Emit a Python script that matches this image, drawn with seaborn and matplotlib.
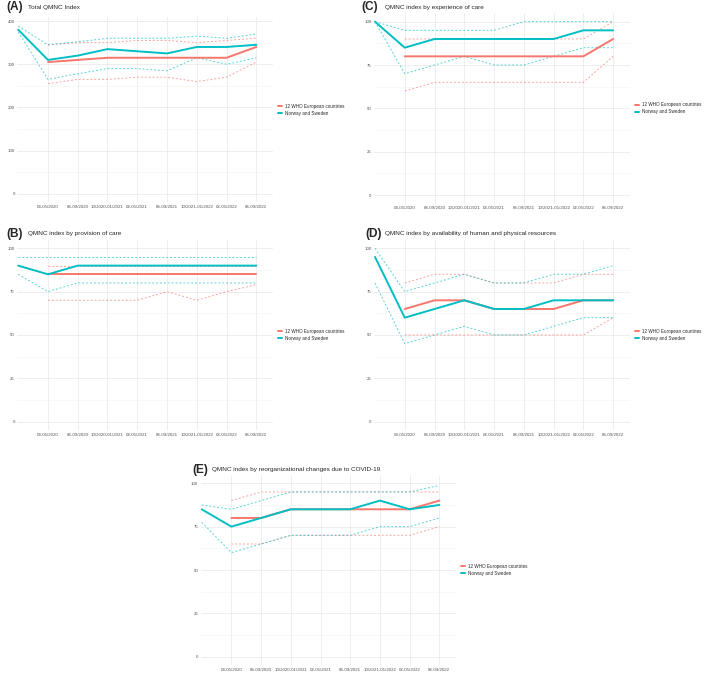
import numpy as np
import pandas as pd
import matplotlib.pyplot as plt
from matplotlib.lines import Line2D
from matplotlib.ticker import MultipleLocator
import seaborn as sns

sns.set_style("white")
plt.rcParams["font.family"] = ["Liberation Sans", "DejaVu Sans"]

# ---------------------------------------------------------
# data
# ---------------------------------------------------------
periods = ["baseline", "03-05/2020", "06-09/2020", "10/2020-01/2021", "02-05/2021",
           "06-09/2021", "10/2021-01/2022", "02-05/2022", "06-09/2022"]
groups = ["12 WHO European countries", "Norway and Sweden"]
palette = {"12 WHO European countries": "#F8766D", "Norway and Sweden": "#00BFC4"}
nan = np.nan

# (A) total QMNC index
a_who = [nan, 305, 310, 315, 315, 315, 315, 315, 340]
a_who_lo = [nan, 255, 265, 265, 270, 270, 260, 270, 305]
a_who_hi = [nan, 345, 350, 350, 355, 355, 350, 355, 360]
a_nor = [380, 310, 320, 335, 330, 325, 340, 340, 345]
a_nor_lo = [375, 265, 278, 290, 290, 285, 315, 300, 315]
a_nor_hi = [388, 345, 352, 360, 360, 360, 365, 360, 370]

# (B) provision of care
b_who = [nan, 85, 85, 85, 85, 85, 85, 85, 85]
b_who_lo = [nan, 70, 70, 70, 70, 75, 70, 75, 79]
b_who_hi = [nan, 90, 90, 90, 90, 90, 90, 90, 90]
b_nor = [90, 85, 90, 90, 90, 90, 90, 90, 90]
b_nor_lo = [85, 75, 80, 80, 80, 80, 80, 80, 80]
b_nor_hi = [95, 95, 95, 95, 95, 95, 95, 95, 95]

# (C) experience of care
c_who = [nan, 80, 80, 80, 80, 80, 80, 80, 90]
c_who_lo = [nan, 60, 65, 65, 65, 65, 65, 65, 80]
c_who_hi = [nan, 90, 90, 90, 90, 90, 90, 90, 100]
c_nor = [100, 85, 90, 90, 90, 90, 90, 95, 95]
c_nor_lo = [100, 70, 75, 80, 75, 75, 80, 85, 85]
c_nor_hi = [100, 95, 95, 95, 95, 100, 100, 100, 100]

# (D) availability of human and physical resources
d_who = [nan, 65, 70, 70, 65, 65, 65, 70, 70]
d_who_lo = [nan, 50, 50, 50, 50, 50, 50, 50, 60]
d_who_hi = [nan, 80, 85, 85, 80, 80, 80, 85, 85]
d_nor = [95, 60, 65, 70, 65, 65, 70, 70, 70]
d_nor_lo = [80, 45, 50, 55, 50, 50, 55, 60, 60]
d_nor_hi = [100, 75, 80, 85, 80, 80, 85, 85, 90]

# (E) reorganizational changes due to COVID-19
e_who = [nan, 80, 80, 85, 85, 85, 85, 85, 90]
e_who_lo = [nan, 65, 65, 70, 70, 70, 70, 70, 75]
e_who_hi = [nan, 90, 95, 95, 95, 95, 95, 95, 95]
e_nor = [85, 75, 80, 85, 85, 85, 90, 85, 87.5]
e_nor_lo = [77.5, 60, 65, 70, 70, 70, 75, 75, 80]
e_nor_hi = [87.5, 85, 90, 95, 95, 95, 95, 95, 98.75]


def to_long(who, who_lo, who_hi, nor, nor_lo, nor_hi):
    rows = []
    for grp, vals in [(groups[0], (who, who_lo, who_hi)), (groups[1], (nor, nor_lo, nor_hi))]:
        for kind, series in zip(["mean", "lower", "upper"], vals):
            for i, v in enumerate(series):
                rows.append({"x": i, "period": periods[i], "group": grp, "kind": kind, "value": v})
    return pd.DataFrame(rows).dropna()


# ---------------------------------------------------------
# figure layout in pixels (709 x 680)
# ---------------------------------------------------------
W, H = 709, 680
fig = plt.figure(figsize=(W / 100, H / 100), dpi=100)


def px_axes(left, top, right, bottom):
    return fig.add_axes([left / W, 1 - bottom / H, (right - left) / W, (bottom - top) / H])


def panel(ax, df, ylim, major, letter, title, lx, tx, ty):
    for kind in ["lower", "upper"]:
        sns.lineplot(data=df[df["kind"] == kind], x="x", y="value", hue="group",
                     palette=palette, estimator=None, linewidth=0.7, alpha=0.65,
                     linestyle=(0, (2, 2)), legend=False, ax=ax)
    sns.lineplot(data=df[df["kind"] == "mean"], x="x", y="value", hue="group",
                 palette=palette, estimator=None, linewidth=1.4, legend=False, ax=ax)

    ax.set_xlim(-0.04, 8.56)
    ax.set_ylim(*ylim)
    ax.set_xticks(range(1, 9))
    ax.set_xticklabels(periods[1:])
    ax.yaxis.set_major_locator(MultipleLocator(major))
    ax.yaxis.set_minor_locator(MultipleLocator(major / 2))
    ax.grid(axis="x", which="major", color="#EBEBEB", linewidth=0.6)
    ax.grid(axis="y", which="major", color="#EBEBEB", linewidth=0.6)
    ax.grid(axis="y", which="minor", color="#F3F3F3", linewidth=0.4)
    ax.set_axisbelow(True)
    ax.tick_params(axis="both", which="both", length=0, labelsize=3.2,
                   labelcolor="#555555", pad=1.6)
    ax.set_xlabel("")
    ax.set_ylabel("")
    sns.despine(ax=ax, left=True, bottom=True)

    handles = [Line2D([], [], color=palette[g], linewidth=1.4) for g in groups]
    ax.legend(handles, groups, loc="center left", bbox_to_anchor=(1.012, 0.5),
              frameon=False, fontsize=3.3, handlelength=1.0, handletextpad=0.6,
              labelspacing=0.45, borderaxespad=0)

    fig.text(lx / W, 1 - ty / H, letter, fontsize=8.6, fontweight="bold", va="center")
    fig.text(tx / W, 1 - ty / H, title, fontsize=4.6, va="center")


# (A)
ax_a = px_axes(17, 16.9, 273, 202.4)
panel(ax_a, to_long(a_who, a_who_lo, a_who_hi, a_nor, a_nor_lo, a_nor_hi),
      (-19.5, 409.5), 100, "(A)", "Total QMNC Index", 6, 28.5, 7)

# (C)
ax_c = px_axes(373.8, 13.0, 629.8, 203.7)
panel(ax_c, to_long(c_who, c_who_lo, c_who_hi, c_nor, c_nor_lo, c_nor_hi),
      (-5, 105), 25, "(C)", "QMNC index by experience of care", 361.5, 385, 7)

# (B)
ax_b = px_axes(17, 239.6, 273, 430.4)
panel(ax_b, to_long(b_who, b_who_lo, b_who_hi, b_nor, b_nor_lo, b_nor_hi),
      (-5, 105), 25, "(B)", "QMNC index by provision of care", 6, 28.5, 234)

# (D)
ax_d = px_axes(373.8, 239.6, 629.8, 430.4)
panel(ax_d, to_long(d_who, d_who_lo, d_who_hi, d_nor, d_nor_lo, d_nor_hi),
      (-5, 105), 25, "(D)", "QMNC index by availability of human and physical resources",
      365.5, 385, 234)

# (E)
ax_e = px_axes(200.5, 474.6, 456, 665.4)
panel(ax_e, to_long(e_who, e_who_lo, e_who_hi, e_nor, e_nor_lo, e_nor_hi),
      (-5, 105), 25, "(E)", "QMNC index by reorganizational changes due to COVID-19",
      192.5, 211.5, 469.5)

fig.savefig("out.png", dpi=100)
